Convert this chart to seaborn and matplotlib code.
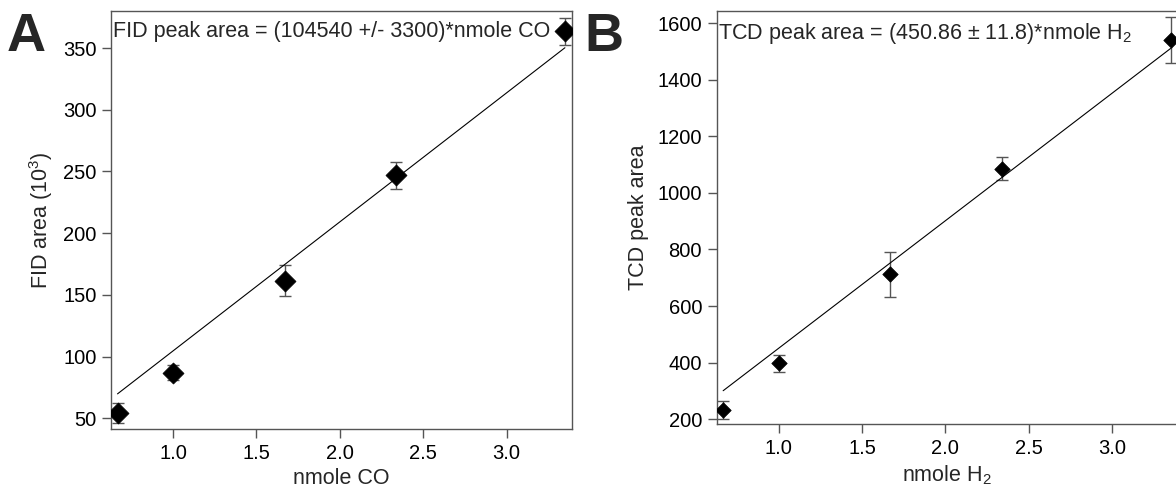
import numpy as np
import pandas as pd
import matplotlib
matplotlib.use("Agg")
import matplotlib.pyplot as plt
import seaborn as sns

# Calibration data: FID response to CO (panel A) and TCD response to H2 (panel B)
nmole = [0.667, 1.0, 1.67, 2.34, 3.35]

fid_area = [54.3, 86.8, 161.4, 247.0, 363.6]      # 10^3 counts
fid_err = [8.0, 6.0, 12.6, 11.0, 11.0]
fid_slope = 104.54                                   # 10^3 counts per nmole
fid_label = "FID peak area = (104540 +/- 3300)*nmole CO"

tcd_area = [233.0, 397.6, 711.8, 1086.0, 1541.0]
tcd_err = [32.0, 31.0, 79.0, 40.0, 81.0]
tcd_slope = 450.86
tcd_label = "TCD peak area = (450.86 \u00b1 11.8)*nmole H$_2$"

a_yticks = [50, 100, 150, 200, 250, 300, 350]
b_yticks = [200, 400, 600, 800, 1000, 1200, 1400, 1600]
xticks = [1.0, 1.5, 2.0, 2.5, 3.0]

sns.set_style("ticks")
plt.rcParams["font.family"] = ["Liberation Sans", "DejaVu Sans"]
plt.rcParams["mathtext.fontset"] = "custom"
plt.rcParams["mathtext.rm"] = "Liberation Sans"
plt.rcParams["mathtext.it"] = "Liberation Sans:italic"

GRAY = "#555555"
FS = 15.5
TICK_FS = 14.5

fig = plt.figure(figsize=(11.76, 4.95), dpi=100)
ax_a = fig.add_axes([0.0944, 0.1327, 0.3922, 0.8451])
ax_b = fig.add_axes([0.6094, 0.1434, 0.3922, 0.8344])


def panel(ax, y, err, slope, label, ylabel, xlabel, yticks, ylim, msize):
    df = pd.DataFrame({"x": nmole, "y": y, "err": err})
    ax.errorbar(df["x"], df["y"], yerr=df["err"], fmt="none", ecolor=GRAY,
                elinewidth=1.0, capsize=4.5, capthick=1.0, zorder=2)
    fit = pd.DataFrame({"x": [nmole[0], nmole[-1]]})
    fit["y"] = slope * fit["x"]
    sns.lineplot(data=fit, x="x", y="y", ax=ax, color="black", lw=0.8, zorder=3)
    sns.scatterplot(data=df, x="x", y="y", ax=ax, marker="D", s=msize,
                    color="black", edgecolor="black", linewidth=0.5, zorder=4)
    ax.set_xlim(0.628, 3.394)
    ax.set_ylim(*ylim)
    ax.set_xticks(xticks)
    ax.set_xticklabels([f"{t:.1f}" for t in xticks])
    ax.set_yticks(yticks)
    ax.set_yticklabels([str(t) for t in yticks])
    ax.tick_params(axis="both", direction="out", length=6.5, width=1.0,
                   color=GRAY, labelsize=TICK_FS, labelcolor="black", pad=4)
    for s in ax.spines.values():
        s.set_visible(True)
        s.set_color(GRAY)
        s.set_linewidth(1.0)
    ax.set_xlabel(xlabel, fontsize=FS, labelpad=4)
    ax.set_ylabel(ylabel, fontsize=FS, labelpad=6)
    ax.text(0.004, 0.975, label, transform=ax.transAxes, fontsize=FS,
            ha="left", va="top")


panel(ax_a, fid_area, fid_err, fid_slope, fid_label, "FID area (10$^{3}$)",
      "nmole CO", a_yticks, (41, 380), 115)
panel(ax_b, tcd_area, tcd_err, tcd_slope, tcd_label, "TCD peak area",
      "nmole H$_2$", b_yticks, (183, 1643), 62)

fig.text(0.006, 0.975, "A", fontsize=39, fontweight="bold", ha="left", va="top")
fig.text(0.497, 0.975, "B", fontsize=39, fontweight="bold", ha="left", va="top")

fig.savefig("out.png", dpi=100)
